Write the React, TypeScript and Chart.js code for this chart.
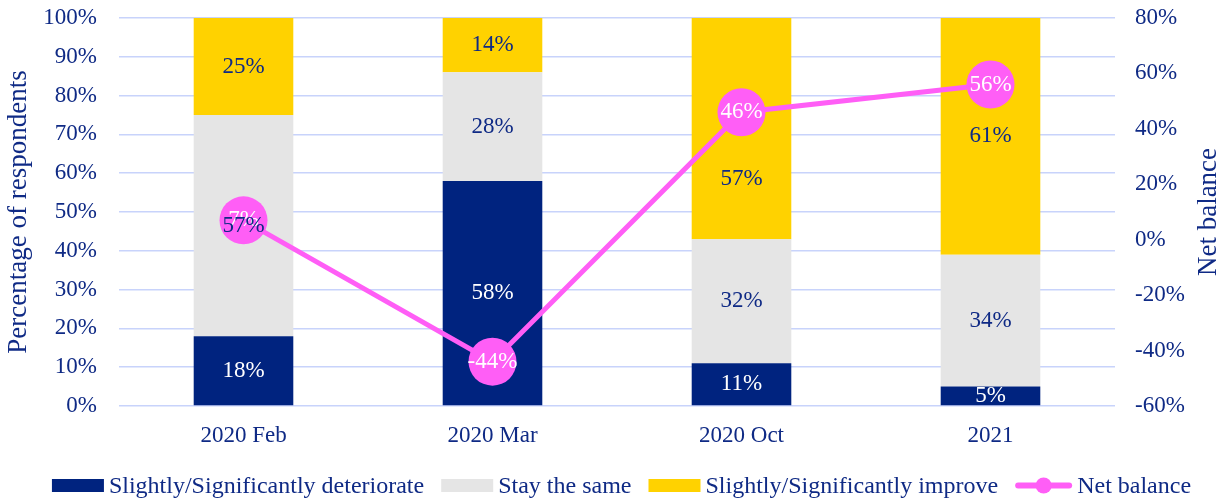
import React, { useEffect, useRef } from 'react';
import { Chart, registerables } from 'chart.js';

Chart.register(...registerables);

const categories = ['2020 Feb', '2020 Mar', '2020 Oct', '2021'];
const deteriorate = [18, 58, 11, 5];
const stayTheSame = [57, 28, 32, 34];
const improve = [25, 14, 57, 61];
const netBalance = [7, -44, 46, 56];

const NAVY = '#00237f';
const GRAY = '#e5e5e5';
const YELLOW = '#ffd200';
const PINK = '#ff5ef6';
const TEXT = '#0f2a85';
const GRID = '#c8d3fb';
const FONT = "'Liberation Serif', 'Times New Roman', serif";

const labelPlugin = {
  id: 'valueLabels',
  afterDatasetsDraw(chart: any) {
    const ctx = chart.ctx;
    ctx.save();
    ctx.font = `23px ${FONT}`;
    ctx.textAlign = 'center';
    ctx.textBaseline = 'middle';
    const order = [3, 0, 1, 2];
    order.forEach((i) => {
      const ds = chart.data.datasets[i];
      const meta = chart.getDatasetMeta(i);
      if (!ds || meta.hidden) return;
      meta.data.forEach((el: any, j: number) => {
        const v = ds.data[j];
        const x = el.x;
        let y = el.y;
        if (meta.type === 'bar') {
          const f = ds.labelAnchor ? ds.labelAnchor[j] : 0.5;
          y = el.y + (el.base - el.y) * f;
        }
        ctx.fillStyle = ds.labelColor;
        ctx.fillText(`${v}%`, x, y);
      });
    });
    ctx.restore();
  },
};

const extrasPlugin = {
  id: 'extras',
  afterDraw(chart: any) {
    const ctx = chart.ctx;
    const area = chart.chartArea;
    ctx.save();
    // right axis title, reading bottom to top
    ctx.font = `27px ${FONT}`;
    ctx.fillStyle = TEXT;
    ctx.textAlign = 'center';
    ctx.textBaseline = 'middle';
    ctx.translate(chart.width - 12, (area.top + area.bottom) / 2);
    ctx.rotate(-Math.PI / 2);
    ctx.fillText('Net balance', 0, 0);
    ctx.restore();

    // legend
    ctx.save();
    ctx.font = `24px ${FONT}`;
    ctx.textBaseline = 'middle';
    ctx.textAlign = 'left';
    const items = chart.data.datasets.map((ds: any) => ({
      text: ds.label,
      isLine: ds.type === 'line',
      color: ds.type === 'line' ? ds.borderColor : ds.backgroundColor,
      iconW: ds.type === 'line' ? 57 : 52,
      textW: ctx.measureText(ds.label).width,
    }));
    const iconGap = 5;
    const itemGap = 17;
    const total = items.reduce(
      (s: number, it: any, i: number) => s + it.iconW + iconGap + it.textW + (i > 0 ? itemGap : 0),
      0
    );
    let x = (chart.width - total) / 2 + 11;
    const y = chart.height - 12.5;
    items.forEach((it: any) => {
      if (it.isLine) {
        ctx.strokeStyle = it.color;
        ctx.lineWidth = 6;
        ctx.lineCap = 'round';
        ctx.beginPath();
        ctx.moveTo(x + 3, y);
        ctx.lineTo(x + it.iconW - 3, y);
        ctx.stroke();
        ctx.fillStyle = it.color;
        ctx.beginPath();
        ctx.arc(x + it.iconW / 2, y, 8, 0, Math.PI * 2);
        ctx.fill();
      } else {
        ctx.fillStyle = it.color;
        ctx.fillRect(x, y - 6.5, it.iconW, 13);
      }
      x += it.iconW + iconGap;
      ctx.fillStyle = TEXT;
      ctx.fillText(it.text, x, y + 1);
      x += it.textW + itemGap;
    });
    ctx.restore();
  },
};

export default function App() {
  const ref = useRef<HTMLCanvasElement>(null);

  useEffect(() => {
    if (!ref.current) return;
    const tickFont = { family: FONT, size: 23 };
    const chart = new Chart(ref.current, {
      type: 'bar',
      data: {
        labels: categories,
        datasets: [
          {
            label: 'Slightly/Significantly deteriorate',
            data: deteriorate,
            backgroundColor: NAVY,
            yAxisID: 'y',
            order: 1,
            labelColor: '#ffffff',
          } as any,
          {
            label: 'Stay the same',
            data: stayTheSame,
            backgroundColor: GRAY,
            yAxisID: 'y',
            order: 1,
            labelColor: TEXT,
          } as any,
          {
            label: 'Slightly/Significantly improve',
            data: improve,
            backgroundColor: YELLOW,
            yAxisID: 'y',
            order: 1,
            labelColor: TEXT,
            // label sits lower in the Oct segment to clear the net-balance marker
            labelAnchor: [0.5, 0.5, 0.73, 0.5],
          } as any,
          {
            type: 'line',
            label: 'Net balance',
            data: netBalance,
            borderColor: PINK,
            backgroundColor: PINK,
            borderWidth: 5,
            pointRadius: 24,
            pointHoverRadius: 24,
            pointBorderWidth: 0,
            pointBackgroundColor: PINK,
            yAxisID: 'y1',
            order: 0,
            tension: 0,
            labelColor: '#ffffff',
          } as any,
        ],
      },
      options: {
        responsive: false,
        animation: false,
        devicePixelRatio: 1,
        datasets: { bar: { barPercentage: 0.4, categoryPercentage: 1 } },
        layout: { autoPadding: false, padding: { top: 0, bottom: 48, left: 0, right: 0 } },
        plugins: {
          tooltip: { enabled: false },
          legend: { display: false },
        },
        scales: {
          x: {
            stacked: true,
            grid: { display: false, drawTicks: false },
            border: { display: false },
            ticks: { color: TEXT, font: tickFont, padding: 16 },
            afterFit: (s: any) => {
              s.height = 44;
            },
          },
          y: {
            stacked: true,
            position: 'left',
            min: 0,
            max: 100,
            ticks: {
              stepSize: 10,
              callback: (v: any) => `${v}%`,
              color: TEXT,
              font: tickFont,
              padding: 22,
            },
            grid: { color: GRID, lineWidth: 1.5, drawTicks: false },
            border: { display: false },
            title: {
              display: true,
              text: 'Percentage of respondents',
              color: TEXT,
              font: { family: FONT, size: 27, lineHeight: 1 },
              padding: { top: 5, bottom: 0 },
            },
            afterFit: (s: any) => {
              s.width = 119;
              s.paddingTop = 18;
              s.paddingBottom = 14;
            },
          },
          y1: {
            position: 'right',
            min: -60,
            max: 80,
            ticks: {
              stepSize: 20,
              callback: (v: any) => `${v}%`,
              color: TEXT,
              font: tickFont,
              padding: 20,
            },
            grid: { display: false, drawTicks: false },
            border: { display: false },
            afterFit: (s: any) => {
              s.width = 106;
              s.paddingTop = 18;
              s.paddingBottom = 14;
            },
          },
        },
      } as any,
      plugins: [labelPlugin, extrasPlugin],
    });
    return () => chart.destroy();
  }, []);

  return (
    <div style={{ position: 'fixed', left: 0, top: 0, width: 1221, height: 498, background: '#ffffff' }}>
      <canvas ref={ref} width={1221} height={498} style={{ display: 'block' }} />
    </div>
  );
}
